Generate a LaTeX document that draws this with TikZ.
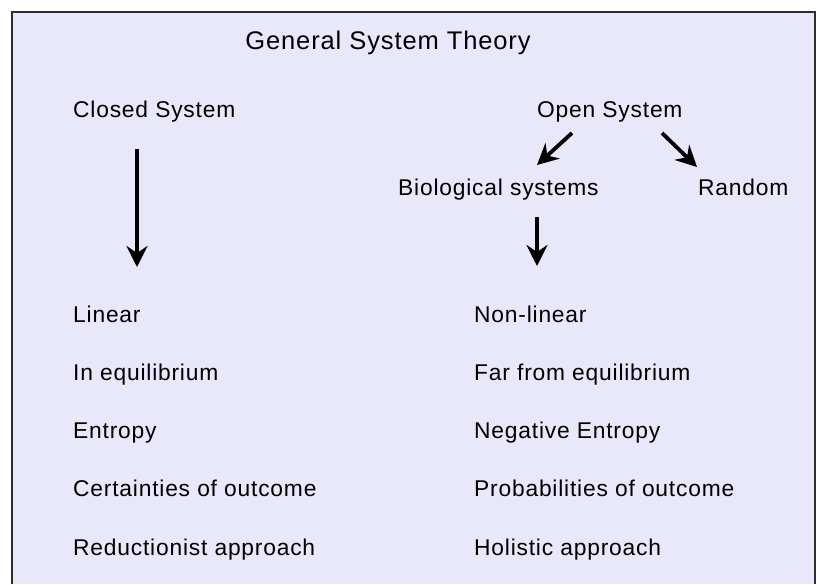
\documentclass[tikz,border=0pt]{standalone}
\usepackage{fontspec}
\setmainfont{Liberation Sans}[LetterSpace=3.5]
\usetikzlibrary{arrows.meta,calc}
\definecolor{panel}{RGB}{232,232,250}
\definecolor{frame}{RGB}{45,45,45}

\begin{document}
\begin{tikzpicture}[x=1pt, y=-1pt,
  item/.style={anchor=base west, inner sep=0pt, font=\fontsize{22.8}{27}\selectfont},
  arr/.style={line width=3.8pt, -{Stealth[length=21pt, width=21pt, inset=7pt]}}]

\useasboundingbox (0,0) rectangle (817,584);

% Background panel, open at the bottom
\fill[panel] (12,12) rectangle (815,584);
\draw[frame, line width=1.8pt] (12,584) -- (12,12) -- (815,12) -- (815,584);

% Title and the two branches
\node[anchor=base, inner sep=0pt, font=\fontsize{25.5}{30}\selectfont] (title) at (388,49) {General System Theory};
\node[item] (closed) at (73,117) {Closed System};
\node[item] (open) at (537,117) {Open System};
\node[item] (bio) at (398,195) {Biological systems};
\node[item] (random) at (698,195) {Random};

% Properties of each kind of system
\foreach \txt [count=\i] in {Linear, In equilibrium, Entropy, Certainties of outcome, Reductionist approach} {
  \node[item] (l\i) at (73, {322+58.3*(\i-1)}) {\txt};
}
\foreach \txt [count=\i] in {Non-linear, Far from equilibrium, Negative Entropy, Probabilities of outcome, Holistic approach} {
  \node[item] (r\i) at (474, {322+58.3*(\i-1)}) {\txt};
}

% Arrows
\draw[arr] ($(closed.base west)+(64,32)$) -- ($(l1.base west)+(64,-55)$);
\draw[arr] ($(open.base west)+(35,16)$) -- ($(bio.base west)+(139,-30)$);
\draw[arr] ($(open.base west)+(125,16)$) -- ($(random.base west)+(-1,-28)$);
\draw[arr] ($(bio.base west)+(139,22)$) -- ($(r1.base west)+(63,-56)$);

\end{tikzpicture}
\end{document}
